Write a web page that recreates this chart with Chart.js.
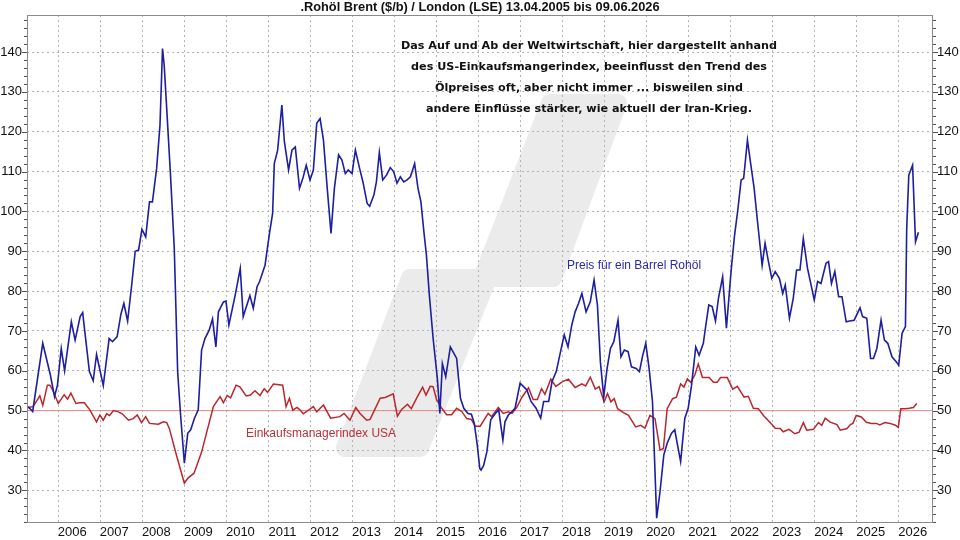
<!DOCTYPE html>
<html lang="de">
<head>
<meta charset="UTF-8">
<title>Rohöl Brent und Einkaufsmanagerindex USA</title>
<script src="https://cdn.jsdelivr.net/npm/chart.js"></script>
<style>
    html, body { margin: 0; padding: 0; background: #fff; }
    #wrap { width: 960px; height: 540px; }
</style>
</head>
<body>
<div id="wrap"><canvas id="oilChart" width="960" height="540"></canvas></div>
<script>
// Brent price ($/barrel), x = decimal year
const brentYears = [
    2005.28, 2005.39, 2005.63, 2005.81, 2005.91, 2005.98, 2006.07, 2006.15, 2006.31, 2006.40,
    2006.52, 2006.58, 2006.64, 2006.74, 2006.83, 2006.91, 2007.07, 2007.21, 2007.29, 2007.40,
    2007.49, 2007.56, 2007.65, 2007.74, 2007.83, 2007.91, 2007.99, 2008.08, 2008.17, 2008.24,
    2008.34, 2008.42, 2008.48, 2008.52, 2008.58, 2008.67, 2008.76, 2008.84, 2008.91, 2009.00,
    2009.08, 2009.15, 2009.24, 2009.33, 2009.41, 2009.49, 2009.59, 2009.67, 2009.75, 2009.81,
    2009.93, 2009.99, 2010.06, 2010.21, 2010.33, 2010.40, 2010.56, 2010.64, 2010.73, 2010.79,
    2010.87, 2010.92, 2011.02, 2011.10, 2011.14, 2011.22, 2011.32, 2011.38, 2011.48, 2011.56,
    2011.64, 2011.74, 2011.82, 2011.90, 2011.99, 2012.07, 2012.15, 2012.23, 2012.31, 2012.40,
    2012.49, 2012.57, 2012.67, 2012.75, 2012.83, 2012.90, 2012.99, 2013.07, 2013.17, 2013.25,
    2013.35, 2013.41, 2013.51, 2013.57, 2013.64, 2013.72, 2013.81, 2013.90, 2013.98, 2014.06,
    2014.14, 2014.22, 2014.30, 2014.38, 2014.48, 2014.56, 2014.63, 2014.70, 2014.76, 2014.83,
    2014.92, 2015.02, 2015.08, 2015.14, 2015.22, 2015.33, 2015.48, 2015.57, 2015.65, 2015.75,
    2015.83, 2015.90, 2015.97, 2016.03, 2016.06, 2016.12, 2016.20, 2016.29, 2016.40, 2016.48,
    2016.58, 2016.63, 2016.71, 2016.79, 2016.87, 2016.99, 2017.15, 2017.25, 2017.37, 2017.48,
    2017.55, 2017.67, 2017.75, 2017.85, 2017.96, 2018.04, 2018.13, 2018.22, 2018.30, 2018.38,
    2018.46, 2018.56, 2018.66, 2018.75, 2018.83, 2018.90, 2018.98, 2019.06, 2019.14, 2019.22,
    2019.32, 2019.39, 2019.47, 2019.56, 2019.64, 2019.75, 2019.83, 2019.90, 2019.98, 2020.06,
    2020.14, 2020.24, 2020.32, 2020.41, 2020.49, 2020.59, 2020.67, 2020.75, 2020.81, 2020.91,
    2020.99, 2021.07, 2021.17, 2021.25, 2021.35, 2021.40, 2021.48, 2021.56, 2021.64, 2021.71,
    2021.81, 2021.90, 2022.01, 2022.09, 2022.17, 2022.25, 2022.31, 2022.40, 2022.47, 2022.56,
    2022.64, 2022.75, 2022.82, 2022.90, 2022.98, 2023.06, 2023.16, 2023.24, 2023.30, 2023.40,
    2023.49, 2023.57, 2023.65, 2023.73, 2023.83, 2023.99, 2024.07, 2024.15, 2024.27, 2024.33,
    2024.40, 2024.48, 2024.57, 2024.65, 2024.75, 2024.83, 2024.94, 2025.08, 2025.14, 2025.24,
    2025.33, 2025.40, 2025.48, 2025.58, 2025.66, 2025.74, 2025.84, 2025.94, 2026.00, 2026.08,
    2026.16, 2026.19, 2026.24, 2026.33, 2026.40, 2026.47
];
const brentPrices = [
    51.0, 49.8, 66.9, 59.0, 53.5, 56.4, 65.6, 60.0, 72.3, 67.7,
    73.6, 74.6, 69.0, 59.8, 57.5, 64.1, 56.3, 68.1, 67.3, 68.6,
    74.2, 76.9, 72.5, 80.9, 90.0, 90.3, 95.5, 93.6, 102.4, 102.4,
    110.8, 121.7, 140.9, 136.7, 125.8, 109.1, 90.7, 59.8, 48.9, 36.8,
    44.3, 45.2, 48.1, 50.2, 65.2, 68.1, 70.2, 73.0, 66.0, 74.8,
    77.3, 77.5, 71.5, 79.0, 85.7, 73.6, 78.9, 75.7, 81.1, 82.4,
    84.9, 86.5, 94.1, 99.5, 112.0, 115.4, 126.7, 117.5, 110.4, 115.4,
    116.2, 105.8, 108.3, 111.6, 107.9, 110.4, 122.1, 123.3, 117.9, 105.8,
    94.5, 105.8, 114.2, 112.9, 109.5, 110.4, 109.5, 115.4, 110.8, 107.4,
    102.0, 101.3, 104.1, 107.4, 114.8, 107.9, 109.1, 111.0, 110.0, 107.1,
    108.7, 107.4, 107.9, 108.7, 112.0, 105.8, 102.4, 94.9, 89.1, 79.0,
    68.1, 58.1, 49.3, 61.8, 58.5, 66.0, 63.1, 53.1, 50.6, 49.3,
    49.1, 46.8, 41.4, 35.5, 35.1, 36.2, 39.7, 47.7, 49.3, 50.2,
    42.6, 47.2, 48.9, 49.7, 50.6, 56.9, 55.2, 52.3, 50.6, 48.1,
    52.3, 52.3, 57.3, 59.8, 65.2, 69.0, 66.0, 71.5, 74.8, 76.9,
    79.4, 74.8, 77.3, 82.8, 76.5, 62.3, 53.5, 60.6, 65.6, 67.3,
    72.7, 63.5, 65.2, 64.8, 61.0, 60.6, 59.8, 63.5, 66.9, 60.6,
    52.3, 23.0, 29.7, 38.9, 41.8, 44.3, 45.2, 40.6, 37.2, 48.1,
    50.6, 56.4, 66.0, 63.9, 66.9, 70.7, 76.5, 76.1, 72.5, 78.2,
    83.6, 70.7, 84.9, 93.7, 100.3, 107.9, 108.3, 117.9, 112.5, 105.8,
    97.4, 86.5, 92.0, 87.4, 83.2, 84.9, 83.2, 79.4, 81.5, 73.2,
    78.2, 85.3, 85.3, 93.2, 85.7, 77.8, 82.4, 81.9, 87.0, 87.4,
    81.9, 84.9, 78.6, 78.6, 72.3, 72.5, 72.7, 75.8, 73.6, 73.2,
    63.1, 63.1, 65.6, 72.7, 67.7, 66.9, 63.5, 62.3, 61.4, 69.4,
    71.1, 95.7, 109.1, 111.6, 92.4, 94.8
];

// ISM purchasing managers index USA
const pmiYears = [
    2005.28, 2005.40, 2005.56, 2005.63, 2005.74, 2005.80, 2005.86, 2006.00, 2006.14, 2006.22,
    2006.30, 2006.42, 2006.52, 2006.62, 2006.75, 2006.91, 2006.99, 2007.07, 2007.15, 2007.22,
    2007.31, 2007.43, 2007.52, 2007.67, 2007.78, 2007.88, 2007.98, 2008.08, 2008.17, 2008.38,
    2008.50, 2008.58, 2008.64, 2008.82, 2009.00, 2009.08, 2009.23, 2009.41, 2009.69, 2009.85,
    2009.93, 2010.02, 2010.10, 2010.23, 2010.32, 2010.47, 2010.57, 2010.68, 2010.80, 2010.90,
    2010.98, 2011.12, 2011.34, 2011.42, 2011.50, 2011.58, 2011.68, 2011.75, 2011.83, 2011.98,
    2012.07, 2012.15, 2012.31, 2012.48, 2012.70, 2012.80, 2012.94, 2013.08, 2013.18, 2013.34,
    2013.42, 2013.66, 2013.78, 2013.97, 2014.07, 2014.17, 2014.31, 2014.40, 2014.54, 2014.67,
    2014.75, 2014.85, 2014.92, 2015.00, 2015.12, 2015.24, 2015.36, 2015.48, 2015.60, 2015.72,
    2015.83, 2015.92, 2016.04, 2016.23, 2016.31, 2016.47, 2016.59, 2016.71, 2016.80, 2016.91,
    2017.03, 2017.19, 2017.30, 2017.40, 2017.50, 2017.58, 2017.72, 2017.84, 2018.00, 2018.14,
    2018.30, 2018.46, 2018.55, 2018.66, 2018.78, 2018.87, 2018.99, 2019.07, 2019.15, 2019.23,
    2019.31, 2019.45, 2019.57, 2019.74, 2019.86, 2019.96, 2020.08, 2020.20, 2020.32, 2020.40,
    2020.49, 2020.62, 2020.71, 2020.81, 2020.89, 2020.97, 2021.05, 2021.15, 2021.23, 2021.33,
    2021.49, 2021.59, 2021.68, 2021.76, 2021.92, 2022.05, 2022.16, 2022.32, 2022.42, 2022.54,
    2022.66, 2022.78, 2022.94, 2023.06, 2023.18, 2023.25, 2023.39, 2023.53, 2023.63, 2023.73,
    2023.81, 2023.97, 2024.09, 2024.17, 2024.25, 2024.37, 2024.53, 2024.61, 2024.77, 2024.85,
    2024.91, 2024.99, 2025.11, 2025.23, 2025.35, 2025.47, 2025.55, 2025.67, 2025.79, 2025.91,
    2025.99, 2026.05, 2026.15, 2026.25, 2026.35, 2026.43
];
const pmiValues = [
    50.8, 51.0, 53.7, 51.3, 56.4, 56.4, 55.3, 51.8, 54.0, 52.9,
    54.4, 51.8, 52.0, 52.0, 50.2, 47.2, 48.9, 47.6, 49.2, 48.8,
    50.0, 49.7, 49.2, 47.6, 48.0, 48.9, 47.0, 48.5, 46.8, 46.6,
    47.2, 47.0, 45.6, 38.5, 31.8, 33.0, 34.3, 39.6, 51.0, 53.5,
    52.0, 53.8, 53.2, 56.4, 56.0, 53.7, 53.9, 55.0, 53.8, 55.5,
    54.6, 56.7, 56.4, 51.0, 53.1, 50.1, 50.8, 50.2, 49.2, 50.3,
    51.0, 49.7, 51.4, 48.1, 48.5, 49.3, 47.6, 50.8, 49.3, 47.6,
    47.8, 53.1, 53.3, 54.2, 48.6, 50.3, 51.6, 50.5, 53.4, 55.9,
    53.9, 56.1, 56.0, 52.8, 50.7, 49.0, 49.0, 50.6, 49.8, 48.0,
    47.8, 46.1, 46.1, 49.3, 48.5, 50.8, 49.3, 49.7, 49.3, 50.8,
    53.3, 55.7, 52.8, 52.8, 55.5, 54.1, 57.9, 56.1, 57.3, 57.9,
    55.8, 56.7, 56.2, 58.4, 55.4, 56.0, 52.2, 54.3, 52.2, 53.0,
    50.5, 49.5, 48.8, 45.9, 46.3, 45.6, 48.8, 48.0, 40.1, 40.5,
    50.5, 53.0, 53.4, 56.7, 55.9, 58.0, 57.1, 59.0, 61.7, 58.3,
    58.3, 57.1, 57.1, 58.3, 58.3, 55.4, 56.1, 53.4, 53.6, 50.6,
    50.5, 48.8, 47.0, 45.6, 45.5, 44.7, 45.3, 44.2, 44.6, 47.0,
    45.1, 45.3, 47.0, 46.3, 48.1, 47.1, 46.5, 45.1, 45.5, 46.5,
    46.8, 48.8, 48.4, 47.1, 46.8, 46.8, 46.4, 47.0, 46.8, 46.4,
    45.8, 50.5, 50.5, 50.6, 50.8, 51.8
];

const yearTicks = [2006, 2007, 2008, 2009, 2010, 2011, 2012, 2013, 2014, 2015, 2016,
                   2017, 2018, 2019, 2020, 2021, 2022, 2023, 2024, 2025, 2026];
const valueTicks = [30, 40, 50, 60, 70, 80, 90, 100, 110, 120, 130, 140];
const pmiThreshold = 50;
const xRange = [2005.255, 2026.816];
const yRange = [21.8, 149.3];

const titleText = '.Rohöl Brent ($/b) / London (LSE) 13.04.2005 bis 09.06.2026';
const noteLines = [
    'Das Auf und Ab der Weltwirtschaft, hier dargestellt anhand',
    'des US-Einkaufsmangerindex, beeinflusst den Trend des',
    'Ölpreises oft, aber nicht immer ... bisweilen sind',
    'andere Einflüsse stärker, wie aktuell der Iran-Krieg.'
];

const tickFont = { family: "'Liberation Sans', Arial, sans-serif", size: 13 };
const gridDotted = { color: '#b4b4b4', lineWidth: 1, drawTicks: false };

function fixTicks(values) {
    return scale => { scale.ticks = values.map(v => ({ value: v })); };
}

// background, watermark, frame, small axis ticks and the texts
const decor = {
    id: 'decor',
    beforeDraw(chart) {
        const ctx = chart.ctx;
        ctx.save();
        ctx.fillStyle = '#fff';
        ctx.fillRect(0, 0, chart.width, chart.height);
        // faint logo watermark
        ctx.fillStyle = '#ebebeb';
        ctx.strokeStyle = '#ebebeb';
        ctx.lineJoin = 'round';
        ctx.lineWidth = 18;
        const shapes = [
            [[345, 448], [420, 448], [488, 278], [410, 278]],
            [[482, 278], [553, 278], [618, 103], [550, 103]]
        ];
        shapes.forEach(pts => {
            ctx.beginPath();
            pts.forEach((p, i) => i ? ctx.lineTo(p[0], p[1]) : ctx.moveTo(p[0], p[1]));
            ctx.closePath();
            ctx.fill();
            ctx.stroke();
        });
        ctx.restore();
    },
    afterDatasetsDraw(chart) {
        const ctx = chart.ctx;
        const a = chart.chartArea;
        const ys = chart.scales.y;
        ctx.save();
        ctx.strokeStyle = '#8a8a8a';
        ctx.lineWidth = 1;
        ctx.strokeRect(a.left + 0.5, a.top + 0.5, a.right - a.left - 1, a.bottom - a.top - 1);
        ctx.strokeStyle = '#555';
        ctx.beginPath();
        for (let v = 22; v <= 148; v += 2) {
            const py = Math.round(ys.getPixelForValue(v)) + 0.5;
            const len = v % 10 === 0 ? 5 : 3;
            ctx.moveTo(a.left - len, py); ctx.lineTo(a.left, py);
            ctx.moveTo(a.right, py); ctx.lineTo(a.right + len, py);
        }
        ctx.stroke();
        ctx.restore();
    },
    afterDraw(chart) {
        const ctx = chart.ctx;
        ctx.save();
        ctx.textAlign = 'center';
        ctx.textBaseline = 'middle';
        ctx.fillStyle = '#111';
        ctx.font = "bold 12.8px 'Liberation Sans', Arial, sans-serif";
        ctx.fillText(titleText, 480, 7);

        ctx.font = "bold 11.2px 'DejaVu Sans', Verdana, sans-serif";
        noteLines.forEach((t, i) => ctx.fillText(t, 589, 46 + i * 21));

        ctx.textAlign = 'left';
        ctx.font = "12px 'Liberation Sans', Arial, sans-serif";
        ctx.fillStyle = '#2a2aa6';
        ctx.fillText('Preis für ein Barrel Rohöl', 567, 266);
        ctx.fillStyle = '#b8323a';
        ctx.fillText('Einkaufsmanagerindex USA', 246, 434);
        ctx.restore();
    }
};

new Chart(document.getElementById('oilChart'), {
    type: 'line',
    data: {
        datasets: [
            {
                label: 'Brent',
                data: brentYears.map((x, i) => ({ x: x, y: brentPrices[i] })),
                borderColor: '#1e1ea0',
                borderWidth: 1.6,
                pointRadius: 0,
                tension: 0
            },
            {
                label: 'ISM USA',
                data: pmiYears.map((x, i) => ({ x: x, y: pmiValues[i] })),
                borderColor: '#b8282e',
                borderWidth: 1.5,
                pointRadius: 0,
                tension: 0
            },
            {
                label: '50',
                data: xRange.map(x => ({ x: x, y: pmiThreshold })),
                borderColor: '#e08a8a',
                borderWidth: 1,
                pointRadius: 0
            }
        ]
    },
    options: {
        responsive: false,
        devicePixelRatio: 1,
        animation: false,
        layout: { padding: { top: 15, left: 0, right: 0, bottom: 0 } },
        plugins: { legend: { display: false }, tooltip: { enabled: false } },
        scales: {
            x: {
                type: 'linear',
                min: xRange[0],
                max: xRange[1],
                afterBuildTicks: fixTicks(yearTicks),
                afterFit: s => { s.height = 17; },
                grid: gridDotted,
                border: { display: false, dash: [2, 3] },
                ticks: {
                    font: tickFont,
                    color: '#111',
                    padding: 2,
                    labelOffset: 14,
                    maxRotation: 0,
                    autoSkip: false,
                    callback: v => String(v)
                }
            },
            y: {
                position: 'left',
                min: yRange[0],
                max: yRange[1],
                afterBuildTicks: fixTicks(valueTicks),
                afterFit: s => { s.width = 27; },
                grid: gridDotted,
                border: { display: false, dash: [2, 3] },
                ticks: { font: tickFont, color: '#111', padding: 5 }
            },
            y2: {
                position: 'right',
                min: yRange[0],
                max: yRange[1],
                afterBuildTicks: fixTicks(valueTicks),
                afterFit: s => { s.width = 27; },
                grid: { display: false, drawTicks: false },
                border: { display: false },
                ticks: { font: tickFont, color: '#111', padding: 4 }
            }
        }
    },
    plugins: [decor]
});
</script>
</body>
</html>
